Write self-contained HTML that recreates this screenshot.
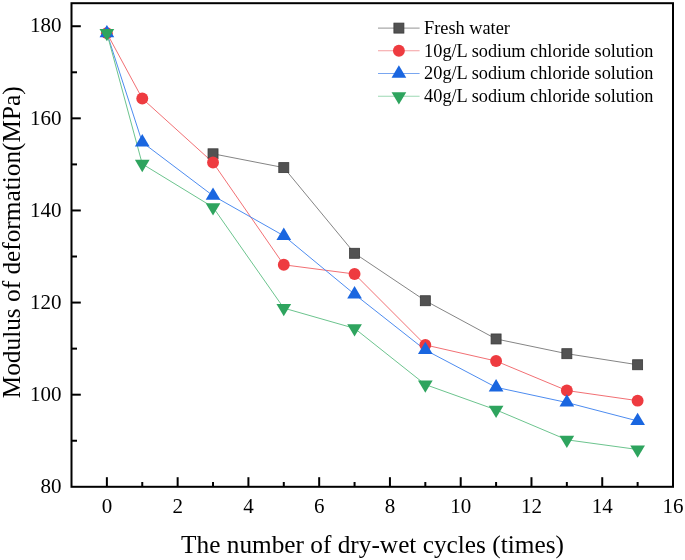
<!DOCTYPE html>
<html><head><meta charset="utf-8"><style>
html,body{margin:0;padding:0;background:#fff;}
body{width:685px;height:560px;overflow:hidden;font-family:"Liberation Serif",serif;}
svg{display:block;will-change:transform;}
text{font-family:"Liberation Serif",serif;}
</style></head><body>
<svg width="685" height="560" viewBox="0 0 685 560" font-family="Liberation Serif, serif" fill="#000">
<rect width="685" height="560" fill="#fff"/>
<polyline points="213.03,153.81 283.79,167.62 354.56,253.29 425.32,300.73 496.09,338.96 566.85,353.69 637.62,364.75" fill="none" stroke="#858585" stroke-width="1.0" stroke-linejoin="round"/>
<polyline points="106.88,33.14 142.26,98.54 213.03,162.56 283.79,264.80 354.56,274.02 425.32,344.94 496.09,361.06 566.85,390.54 637.62,400.67" fill="none" stroke="#f27074" stroke-width="1.0" stroke-linejoin="round"/>
<polyline points="106.88,33.14 142.26,142.29 213.03,195.72 283.79,235.79 354.56,294.28 425.32,350.01 496.09,387.32 566.85,402.52 637.62,420.94" fill="none" stroke="#4d8cf0" stroke-width="1.0" stroke-linejoin="round"/>
<polyline points="106.88,33.14 142.26,163.94 213.03,207.23 283.79,308.10 354.56,328.36 425.32,384.55 496.09,409.88 566.85,439.82 637.62,449.49" fill="none" stroke="#6cc48e" stroke-width="1.0" stroke-linejoin="round"/>
<rect x="208.03" y="148.81" width="10.00" height="10.00" fill="#525252" stroke="#3a3a3a" stroke-width="0.8"/>
<rect x="278.79" y="162.62" width="10.00" height="10.00" fill="#525252" stroke="#3a3a3a" stroke-width="0.8"/>
<rect x="349.56" y="248.29" width="10.00" height="10.00" fill="#525252" stroke="#3a3a3a" stroke-width="0.8"/>
<rect x="420.32" y="295.73" width="10.00" height="10.00" fill="#525252" stroke="#3a3a3a" stroke-width="0.8"/>
<rect x="491.09" y="333.96" width="10.00" height="10.00" fill="#525252" stroke="#3a3a3a" stroke-width="0.8"/>
<rect x="561.85" y="348.69" width="10.00" height="10.00" fill="#525252" stroke="#3a3a3a" stroke-width="0.8"/>
<rect x="632.62" y="359.75" width="10.00" height="10.00" fill="#525252" stroke="#3a3a3a" stroke-width="0.8"/>
<circle cx="106.88" cy="33.14" r="5.95" fill="#ee3b40"/>
<circle cx="142.26" cy="98.54" r="5.95" fill="#ee3b40"/>
<circle cx="213.03" cy="162.56" r="5.95" fill="#ee3b40"/>
<circle cx="283.79" cy="264.80" r="5.95" fill="#ee3b40"/>
<circle cx="354.56" cy="274.02" r="5.95" fill="#ee3b40"/>
<circle cx="425.32" cy="344.94" r="5.95" fill="#ee3b40"/>
<circle cx="496.09" cy="361.06" r="5.95" fill="#ee3b40"/>
<circle cx="566.85" cy="390.54" r="5.95" fill="#ee3b40"/>
<circle cx="637.62" cy="400.67" r="5.95" fill="#ee3b40"/>
<polygon points="106.88,24.94 114.23,37.24 99.53,37.24" fill="#1a66e0"/>
<polygon points="142.26,134.09 149.61,146.39 134.91,146.39" fill="#1a66e0"/>
<polygon points="213.03,187.52 220.38,199.82 205.68,199.82" fill="#1a66e0"/>
<polygon points="283.79,227.59 291.14,239.89 276.44,239.89" fill="#1a66e0"/>
<polygon points="354.56,286.08 361.91,298.38 347.21,298.38" fill="#1a66e0"/>
<polygon points="425.32,341.81 432.67,354.11 417.97,354.11" fill="#1a66e0"/>
<polygon points="496.09,379.12 503.44,391.42 488.74,391.42" fill="#1a66e0"/>
<polygon points="566.85,394.32 574.20,406.62 559.50,406.62" fill="#1a66e0"/>
<polygon points="637.62,412.74 644.97,425.04 630.27,425.04" fill="#1a66e0"/>
<polygon points="99.53,29.04 114.23,29.04 106.88,41.34" fill="#2ea45e"/>
<polygon points="134.91,159.84 149.61,159.84 142.26,172.14" fill="#2ea45e"/>
<polygon points="205.68,203.13 220.38,203.13 213.03,215.43" fill="#2ea45e"/>
<polygon points="276.44,304.00 291.14,304.00 283.79,316.30" fill="#2ea45e"/>
<polygon points="347.21,324.26 361.91,324.26 354.56,336.56" fill="#2ea45e"/>
<polygon points="417.97,380.45 432.67,380.45 425.32,392.75" fill="#2ea45e"/>
<polygon points="488.74,405.78 503.44,405.78 496.09,418.08" fill="#2ea45e"/>
<polygon points="559.50,435.72 574.20,435.72 566.85,448.02" fill="#2ea45e"/>
<polygon points="630.27,445.39 644.97,445.39 637.62,457.69" fill="#2ea45e"/>
<rect x="71.50" y="3.20" width="601.50" height="483.60" fill="none" stroke="#000" stroke-width="2"/>
<line x1="106.88" y1="486.80" x2="106.88" y2="477.20" stroke="#000" stroke-width="2"/>
<line x1="142.26" y1="486.80" x2="142.26" y2="482.00" stroke="#000" stroke-width="2"/>
<line x1="177.65" y1="486.80" x2="177.65" y2="477.20" stroke="#000" stroke-width="2"/>
<line x1="213.03" y1="486.80" x2="213.03" y2="482.00" stroke="#000" stroke-width="2"/>
<line x1="248.41" y1="486.80" x2="248.41" y2="477.20" stroke="#000" stroke-width="2"/>
<line x1="283.79" y1="486.80" x2="283.79" y2="482.00" stroke="#000" stroke-width="2"/>
<line x1="319.18" y1="486.80" x2="319.18" y2="477.20" stroke="#000" stroke-width="2"/>
<line x1="354.56" y1="486.80" x2="354.56" y2="482.00" stroke="#000" stroke-width="2"/>
<line x1="389.94" y1="486.80" x2="389.94" y2="477.20" stroke="#000" stroke-width="2"/>
<line x1="425.32" y1="486.80" x2="425.32" y2="482.00" stroke="#000" stroke-width="2"/>
<line x1="460.71" y1="486.80" x2="460.71" y2="477.20" stroke="#000" stroke-width="2"/>
<line x1="496.09" y1="486.80" x2="496.09" y2="482.00" stroke="#000" stroke-width="2"/>
<line x1="531.47" y1="486.80" x2="531.47" y2="477.20" stroke="#000" stroke-width="2"/>
<line x1="566.85" y1="486.80" x2="566.85" y2="482.00" stroke="#000" stroke-width="2"/>
<line x1="602.24" y1="486.80" x2="602.24" y2="477.20" stroke="#000" stroke-width="2"/>
<line x1="637.62" y1="486.80" x2="637.62" y2="482.00" stroke="#000" stroke-width="2"/>
<line x1="71.50" y1="440.74" x2="77.00" y2="440.74" stroke="#000" stroke-width="2"/>
<line x1="71.50" y1="394.69" x2="80.80" y2="394.69" stroke="#000" stroke-width="2"/>
<line x1="71.50" y1="348.63" x2="77.00" y2="348.63" stroke="#000" stroke-width="2"/>
<line x1="71.50" y1="302.57" x2="80.80" y2="302.57" stroke="#000" stroke-width="2"/>
<line x1="71.50" y1="256.51" x2="77.00" y2="256.51" stroke="#000" stroke-width="2"/>
<line x1="71.50" y1="210.46" x2="80.80" y2="210.46" stroke="#000" stroke-width="2"/>
<line x1="71.50" y1="164.40" x2="77.00" y2="164.40" stroke="#000" stroke-width="2"/>
<line x1="71.50" y1="118.34" x2="80.80" y2="118.34" stroke="#000" stroke-width="2"/>
<line x1="71.50" y1="72.29" x2="77.00" y2="72.29" stroke="#000" stroke-width="2"/>
<line x1="71.50" y1="26.23" x2="80.80" y2="26.23" stroke="#000" stroke-width="2"/>
<text x="106.88" y="513" text-anchor="middle" font-size="21">0</text>
<text x="177.65" y="513" text-anchor="middle" font-size="21">2</text>
<text x="248.41" y="513" text-anchor="middle" font-size="21">4</text>
<text x="319.18" y="513" text-anchor="middle" font-size="21">6</text>
<text x="389.94" y="513" text-anchor="middle" font-size="21">8</text>
<text x="460.71" y="513" text-anchor="middle" font-size="21">10</text>
<text x="531.47" y="513" text-anchor="middle" font-size="21">12</text>
<text x="602.24" y="513" text-anchor="middle" font-size="21">14</text>
<text x="673.00" y="513" text-anchor="middle" font-size="21">16</text>
<text x="61.5" y="493.00" text-anchor="end" font-size="21">80</text>
<text x="61.5" y="400.89" text-anchor="end" font-size="21">100</text>
<text x="61.5" y="308.77" text-anchor="end" font-size="21">120</text>
<text x="61.5" y="216.66" text-anchor="end" font-size="21">140</text>
<text x="61.5" y="124.54" text-anchor="end" font-size="21">160</text>
<text x="61.5" y="32.43" text-anchor="end" font-size="21">180</text>
<text x="372.5" y="552.7" text-anchor="middle" font-size="25.3">The number of dry-wet cycles (times)</text>
<text transform="translate(20,242.3) rotate(-90)" text-anchor="middle" font-size="25.3">Modulus of deformation(MPa)</text>
<line x1="378" y1="28.10" x2="419.6" y2="28.10" stroke="#a9a9a9" stroke-width="1.1"/>
<rect x="393.90" y="23.10" width="10.00" height="10.00" fill="#525252" stroke="#3a3a3a" stroke-width="0.8"/>
<text x="424.1" y="33.90" font-size="18.3">Fresh water</text>
<line x1="378" y1="50.82" x2="419.6" y2="50.82" stroke="#f59ea0" stroke-width="1.1"/>
<circle cx="398.90" cy="50.82" r="5.95" fill="#ee3b40"/>
<text x="424.1" y="56.62" font-size="18.3">10g/L sodium chloride solution</text>
<line x1="378" y1="73.54" x2="419.6" y2="73.54" stroke="#79a6f0" stroke-width="1.1"/>
<polygon points="398.90,65.34 406.25,77.64 391.55,77.64" fill="#1a66e0"/>
<text x="424.1" y="79.34" font-size="18.3">20g/L sodium chloride solution</text>
<line x1="378" y1="96.26" x2="419.6" y2="96.26" stroke="#9dd8b3" stroke-width="1.1"/>
<polygon points="391.55,92.16 406.25,92.16 398.90,104.46" fill="#2ea45e"/>
<text x="424.1" y="102.06" font-size="18.3">40g/L sodium chloride solution</text>
</svg>
</body></html>
